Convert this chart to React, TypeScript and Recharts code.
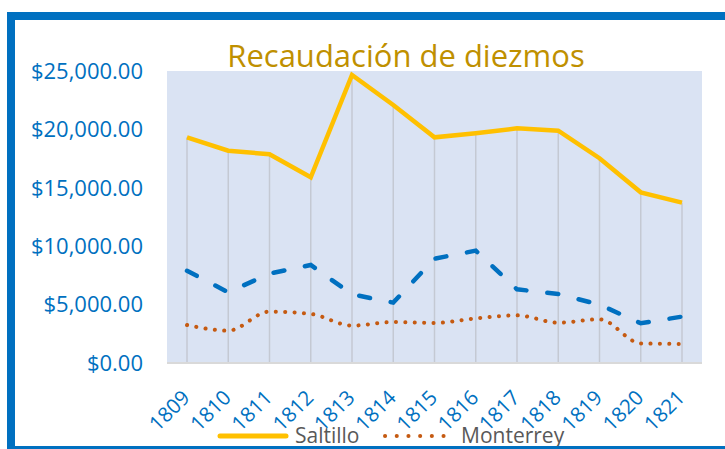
import { LineChart, Line, XAxis, YAxis, CartesianGrid, ReferenceLine } from "recharts";

const years = ["1809", "1810", "1811", "1812", "1813", "1814", "1815", "1816", "1817", "1818", "1819", "1820", "1821"];
const saltillo = [19320, 18180, 17870, 15900, 24660, 22090, 19320, 19670, 20090, 19890, 17530, 14610, 13730];
const otros = [7900, 6050, 7650, 8390, 5880, 5170, 8930, 9620, 6310, 5910, 5000, 3400, 3970];
const monterrey = [3250, 2770, 4400, 4200, 3200, 3510, 3430, 3820, 4080, 3450, 3740, 1680, 1630];
const yTicks = [0, 5000, 10000, 15000, 20000, 25000];

const data = years.map((year, i) => ({
  year,
  saltillo: saltillo[i],
  otros: otros[i],
  monterrey: monterrey[i],
}));

const BLUE = "#0070C0";
const FONT = "'Open Sans', sans-serif";

const money = (v: number) =>
  "$" + v.toLocaleString("en-US", { minimumFractionDigits: 2, maximumFractionDigits: 2 });

const YearTick = ({ x, y, payload }: any) => {
  const tx = x + 4;
  const ty = y + 34;
  return (
    <text
      x={tx}
      y={ty}
      transform={`rotate(-45 ${tx} ${ty})`}
      textAnchor="end"
      fill={BLUE}
      fontSize={20.5}
      fontFamily={FONT}
    >
      {payload.value}
    </text>
  );
};

export default function App() {
  return (
    <div style={{ position: "absolute", left: 0, top: 0, width: 725, height: 449, overflow: "hidden", background: "#fff" }}>
      <div
        style={{
          position: "absolute", left: 206, top: 34, width: 400, textAlign: "center",
          fontFamily: FONT, fontSize: 31, lineHeight: "normal", color: "#BF9000", whiteSpace: "nowrap",
        }}
      >
        Recaudación de diezmos
      </div>
      <div style={{ position: "absolute", left: 0, top: 0 }}>
        <LineChart width={725} height={449} data={data} margin={{ top: 71, right: 23, left: 7, bottom: 46 }}>
          <CartesianGrid horizontal={false} vertical={false} fill="#DAE3F3" />
          <XAxis
            dataKey="year"
            height={40}
            padding={{ left: 20, right: 20 }}
            tickLine={false}
            tickSize={0}
            axisLine={{ stroke: "#D9D9D9", strokeWidth: 2 }}
            tick={<YearTick />}
            interval={0}
          />
          <YAxis
            width={160}
            domain={[0, 25000]}
            ticks={yTicks}
            tickFormatter={money}
            axisLine={false}
            tickLine={false}
            tickSize={0}
            tickMargin={24}
            tick={{ fill: BLUE, fontSize: 22, fontFamily: FONT }}
          />
          {years.map((year, i) => (
            <ReferenceLine
              key={year}
              segment={[{ x: year, y: 0 }, { x: year, y: saltillo[i] }]}
              stroke="#C4C9D3"
              strokeWidth={1.5}
            />
          ))}
          <Line
            dataKey="monterrey"
            name="Monterrey"
            type="monotone"
            stroke="#C55A11"
            strokeWidth={4}
            strokeDasharray="0.1 9.3"
            strokeLinecap="round"
            dot={false}
            isAnimationActive={false}
          />
          <Line
            dataKey="otros"
            name="Otros"
            type="linear"
            stroke={BLUE}
            strokeWidth={4.5}
            strokeDasharray="11 21"
            strokeLinecap="round"
            dot={false}
            isAnimationActive={false}
          />
          <Line
            dataKey="saltillo"
            name="Saltillo"
            type="linear"
            stroke="#FFC000"
            strokeWidth={4.5}
            dot={false}
            isAnimationActive={false}
          />
        </LineChart>
      </div>
      <svg style={{ position: "absolute", left: 0, top: 422 }} width={725} height={27}>
        <line x1={220} y1={14} x2={286} y2={14} stroke="#FFC000" strokeWidth={5} strokeLinecap="round" />
        <text x={295} y={14} dy="0.33em" fill="#595959" fontSize={21} fontFamily={FONT}>Saltillo</text>
        <line x1={385} y1={14} x2={444} y2={14} stroke="#C55A11" strokeWidth={4} strokeLinecap="round" strokeDasharray="0.1 11.6" />
        <text x={461} y={14} dy="0.33em" fill="#595959" fontSize={21} fontFamily={FONT}>Monterrey</text>
      </svg>
      <div
        style={{
          position: "absolute", left: 7, top: 12, width: 800, height: 442,
          boxSizing: "border-box", pointerEvents: "none",
          borderLeft: `8px solid ${BLUE}`, borderTop: `8px solid ${BLUE}`, borderBottom: `8px solid ${BLUE}`,
        }}
      />
    </div>
  );
}
